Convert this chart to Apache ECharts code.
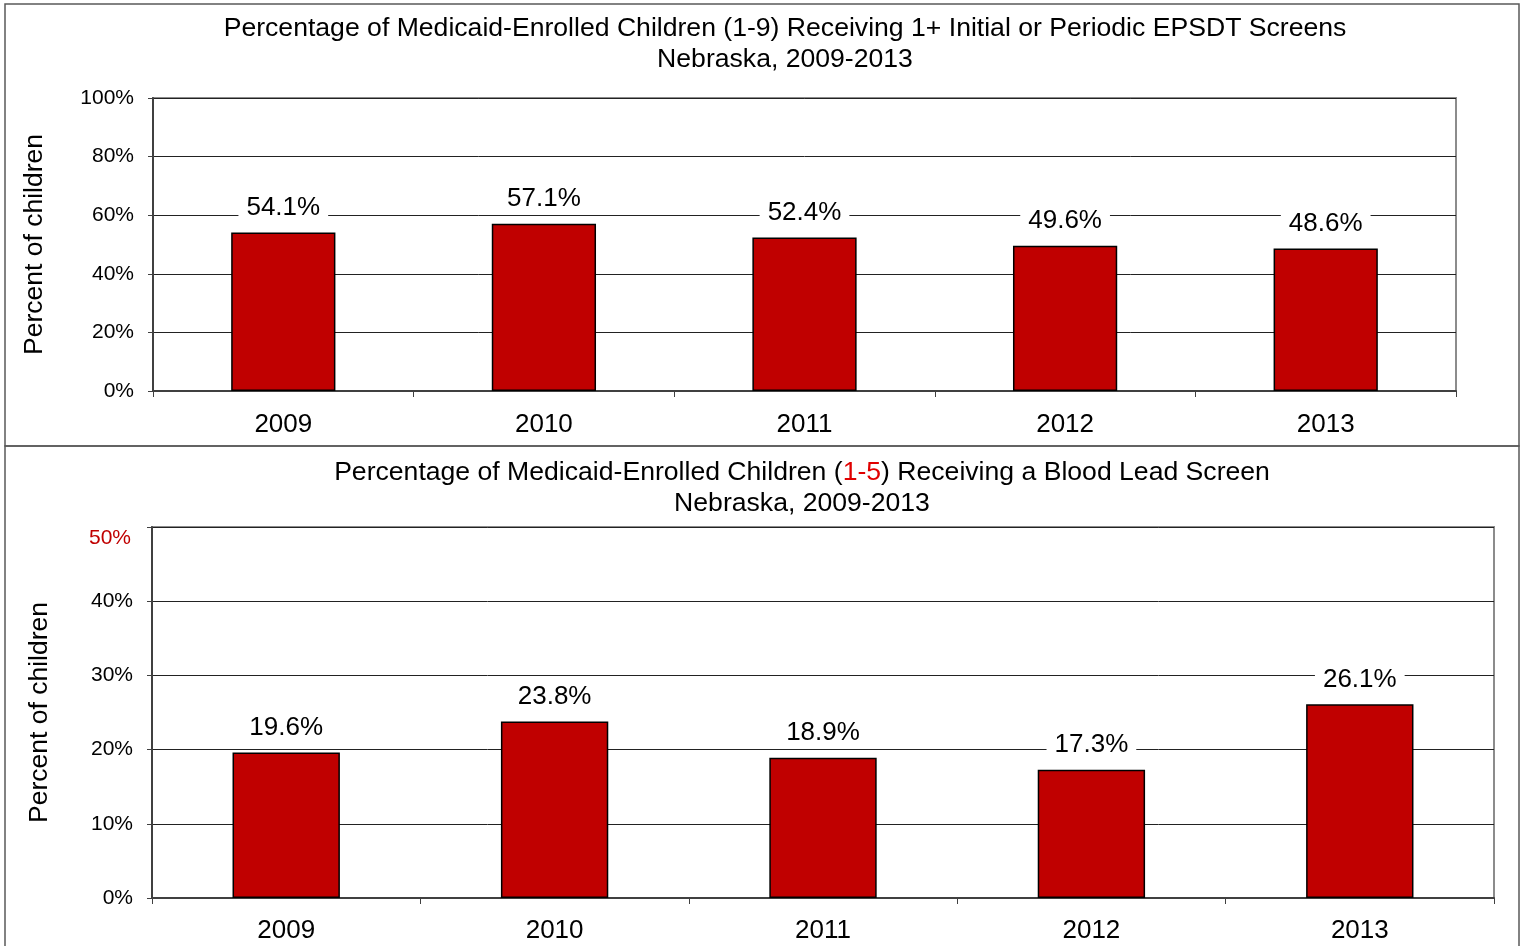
<!DOCTYPE html>
<html>
<head>
<meta charset="utf-8">
<script src="https://cdn.jsdelivr.net/npm/echarts@6/dist/echarts.min.js"></script>
<style>
  html, body { margin: 0; padding: 0; background: #fff; }
  #chart { width: 1525px; height: 946px; }
</style>
</head>
<body>
<div id="chart"></div>
<script>
// chart data
const years = ['2009', '2010', '2011', '2012', '2013']
const epsdtValues = [54.1, 57.1, 52.4, 49.6, 48.6]
const leadValues = [19.6, 23.8, 18.9, 17.3, 26.1]
const epsdtTicks = [0, 20, 40, 60, 80, 100]
const leadTicks = [0, 10, 20, 30, 40, 50]

const FONT = 'Liberation Sans, Arial, sans-serif'
const BAR_RED = '#c00000'

const chart = echarts.init(document.getElementById('chart'))

function yAxisFor(gridIndex, ticks, nameGap, redTop) {
  return {
    type: 'value',
    gridIndex: gridIndex,
    min: ticks[0],
    max: ticks[ticks.length - 1],
    interval: ticks[1] - ticks[0],
    name: 'Percent of children',
    nameLocation: 'middle',
    nameGap: nameGap,
    nameTextStyle: { fontFamily: FONT, fontSize: 26.5, color: '#000' },
    axisLine: { show: true, lineStyle: { color: '#404040', width: 2 } },
    axisTick: { show: true, length: 5, lineStyle: { color: '#404040', width: 1 } },
    splitLine: { show: true, lineStyle: { color: '#222', width: 1 } },
    axisLabel: {
      fontFamily: FONT,
      fontSize: 21,
      color: '#000',
      margin: 19,
      formatter(v) {
        if (redTop && v === ticks[ticks.length - 1]) return '{r|' + v + '%}'
        return v + '%'
      },
      rich: {
        r: { color: BAR_RED, fontFamily: FONT, fontSize: 21, padding: [22, 2, 0, 0] }
      }
    }
  }
}

function xAxisFor(gridIndex, margin) {
  return {
    type: 'category',
    gridIndex: gridIndex,
    data: years,
    axisLine: { show: true, lineStyle: { color: '#404040', width: 2 } },
    axisTick: { show: true, length: 6, lineStyle: { color: '#404040', width: 1 } },
    axisLabel: { fontFamily: FONT, fontSize: 26, color: '#000', margin: margin }
  }
}

function barSeries(index, values) {
  return {
    type: 'bar',
    xAxisIndex: index,
    yAxisIndex: index,
    data: values,
    barWidth: '40%',
    itemStyle: { color: BAR_RED, borderColor: '#000', borderWidth: 1.5 },
    label: {
      show: true,
      position: 'top',
      distance: 11,
      fontFamily: FONT,
      fontSize: 26,
      color: '#000',
      backgroundColor: '#fff',
      padding: [1, 8],
      formatter(p) {
        return p.value.toFixed(1) + '%'
      }
    }
  }
}

chart.setOption({
  backgroundColor: '#fff',
  animation: false,
  title: [{
    text: 'Percentage of Medicaid-Enrolled Children (1-9) Receiving 1+ Initial or Periodic EPSDT Screens\nNebraska, 2009-2013',
    left: 780,
    top: 8,
    textAlign: 'center',
    textStyle: { fontFamily: FONT, fontSize: 26.6, fontWeight: 'normal', color: '#000', lineHeight: 31 }
  }, {
    text: 'Percentage of Medicaid-Enrolled Children ({r|1-5}) Receiving a Blood Lead Screen\nNebraska, 2009-2013',
    left: 797,
    top: 452,
    textAlign: 'center',
    textStyle: {
      fontFamily: FONT, fontSize: 26.6, fontWeight: 'normal', color: '#000', lineHeight: 31,
      rich: { r: { color: '#e00000', fontFamily: FONT, fontSize: 26.6, lineHeight: 31 } }
    }
  }],
  graphic: [{
    type: 'rect',
    shape: { x: 5, y: 4, width: 1514, height: 442 },
    style: { fill: 'none', stroke: '#5a5a5a', lineWidth: 1.5 },
    z: 100
  }, {
    type: 'rect',
    shape: { x: 5, y: 446, width: 1514, height: 520 },
    style: { fill: 'none', stroke: '#5a5a5a', lineWidth: 1.5 },
    z: 100
  }],
  grid: [{
    left: 153, top: 98, width: 1303, height: 293,
    show: true, borderColor: '#8c8c8c', borderWidth: 2, backgroundColor: '#fff'
  }, {
    left: 152, top: 527, width: 1342, height: 371,
    show: true, borderColor: '#8c8c8c', borderWidth: 2, backgroundColor: '#fff'
  }],
  xAxis: [xAxisFor(0, 21), xAxisFor(1, 20)],
  yAxis: [yAxisFor(0, epsdtTicks, 105, false), yAxisFor(1, leadTicks, 99, true)],
  series: [barSeries(0, epsdtValues), barSeries(1, leadValues)]
})
</script>
</body>
</html>
